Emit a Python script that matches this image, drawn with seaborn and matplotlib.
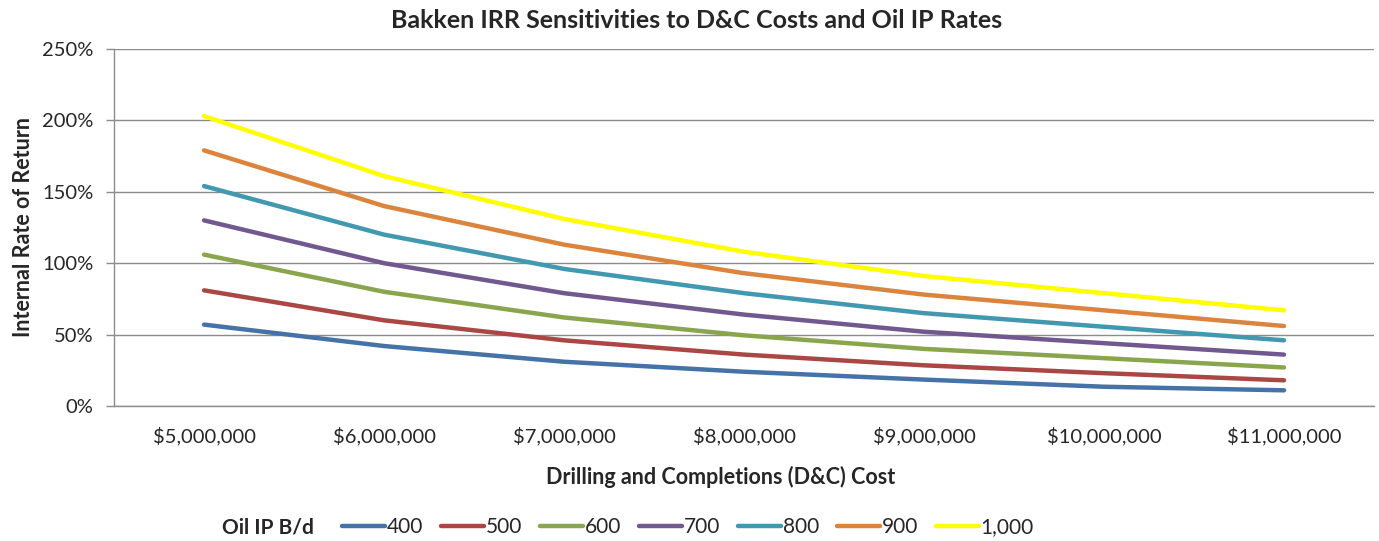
import matplotlib
matplotlib.use("Agg")
import matplotlib.pyplot as plt
import seaborn as sns
import pandas as pd
import numpy as np
from matplotlib.ticker import FixedLocator

# D&C cost categories
costs = ["$5,000,000", "$6,000,000", "$7,000,000", "$8,000,000",
         "$9,000,000", "$10,000,000", "$11,000,000"]

# IRR (%) per oil IP rate
irr_400 = [57, 42, 31, 24, 18.5, 13.5, 11]
irr_500 = [81, 60, 46, 36, 28.5, 23, 18]
irr_600 = [106, 80, 62, 49.5, 40, 33.5, 27]
irr_700 = [130, 100, 79, 64, 52, 44, 36]
irr_800 = [154, 120, 96, 79, 65, 55.5, 46]
irr_900 = [179, 140, 113, 93, 78, 67, 56]
irr_1000 = [203, 161, 131, 108, 91, 79, 67]

rates = ["400", "500", "600", "700", "800", "900", "1,000"]
series = [irr_400, irr_500, irr_600, irr_700, irr_800, irr_900, irr_1000]
colors = ["#4572A7", "#AA4643", "#89A54E", "#71588F", "#4198AF", "#DB843D", "#FFFF00"]

rows = []
for rate, vals in zip(rates, series):
    for i, v in enumerate(vals):
        rows.append({"pos": i, "irr": v / 100, "rate": rate})
df = pd.DataFrame(rows)

sns.set_style("white")
plt.rcParams["font.family"] = ["Lato", "DejaVu Sans"]

fig = plt.figure(figsize=(13.79, 5.41), dpi=100)
ax = fig.add_axes([0.0827, 0.2495, 0.9137, 0.66])

sns.lineplot(data=df, x="pos", y="irr", hue="rate", hue_order=rates,
             palette=colors, linewidth=3.2, ax=ax, legend=True,
             solid_capstyle="round")

ax.set_xlim(-0.5, 6.5)
ax.set_ylim(0, 2.5)
yt = np.arange(0, 2.51, 0.5)
ax.set_yticks(yt)
ax.set_yticklabels([f"{int(round(t*100))}%" for t in yt], fontsize=14.5)
ax.yaxis.grid(True, color="#8c8c8c", linewidth=1)
ax.set_axisbelow(True)

ax.set_xticks(range(len(costs)))
ax.set_xticklabels(costs, fontsize=14.5)
ax.xaxis.set_minor_locator(FixedLocator(np.arange(-0.5, 7, 1)))
ax.tick_params(axis="x", which="major", length=0, pad=15)
ax.tick_params(axis="x", which="minor", length=6, color="#8c8c8c", width=1)
ax.tick_params(axis="y", which="major", length=6, color="#8c8c8c", width=1, left=True, pad=9)

for side in ["top", "right"]:
    ax.spines[side].set_visible(False)
for side in ["left", "bottom"]:
    ax.spines[side].set_color("#8c8c8c")
    ax.spines[side].set_linewidth(1)

ax.set_xlabel("Drilling and Completions (D&C) Cost", fontsize=15.5, fontweight="bold",
              va="center")
ax.xaxis.set_label_coords((721 - 114) / 1260, (406 - 477) / 357)
ax.set_ylabel("Internal Rate of Return", fontsize=15.5, fontweight="bold", labelpad=6)
fig.text(697 / 1379, 1 - 20 / 541, "Bakken IRR Sensitivities to D&C Costs and Oil IP Rates",
         fontsize=18, fontweight="bold", ha="center", va="center")

handles, labels = ax.get_legend_handles_labels()
ax.get_legend().remove()
fig.legend(handles, labels, ncol=7, loc="center left", frameon=False,
           bbox_to_anchor=(342 / 1379, 1 - 527 / 541), fontsize=15,
           handlelength=2.05, handletextpad=0.08, columnspacing=0.88,
           borderpad=0, borderaxespad=0)
fig.text(222 / 1379, 1 - 527 / 541, "Oil IP B/d", fontsize=15, fontweight="bold", va="center")

fig.savefig("out.png", dpi=100)
